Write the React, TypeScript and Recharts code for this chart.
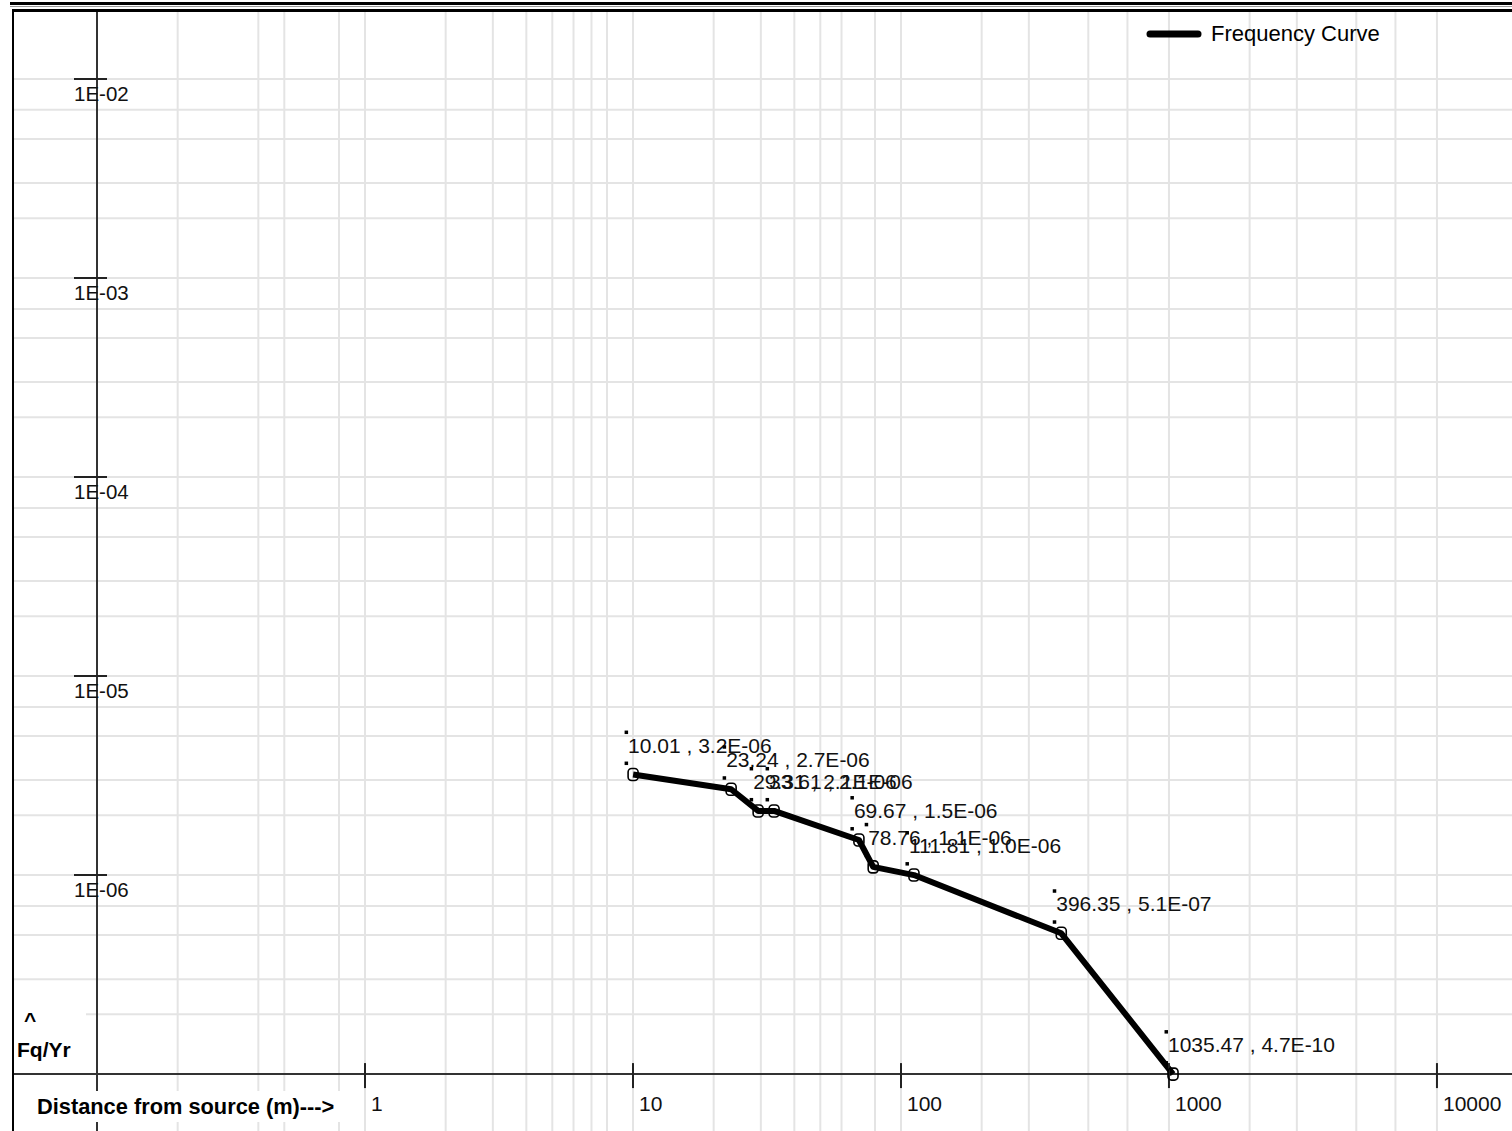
import React from 'react'
import {
  LineChart,
  Line,
  XAxis,
  YAxis,
  CartesianGrid,
  ReferenceLine,
  ReferenceDot,
  LabelList,
  Legend,
} from 'recharts'

// Frequency curve points (distance in m, frequency per year)
const distances = [10.01, 23.24, 29.31, 33.61, 69.67, 78.76, 111.81, 396.35, 1035.47]
const frequencies = [3.2e-6, 2.7e-6, 2.1e-6, 2.1e-6, 1.5e-6, 1.1e-6, 1.0e-6, 5.1e-7, 4.7e-10]

// Axis ticks
const xTickValues = [1, 10, 100, 1000, 10000]
const xTickLabels = ['1', '10', '100', '1000', '10000']
const yTickValues = [1e-2, 1e-3, 1e-4, 1e-5, 1e-6]
const yTickLabels = ['1E-02', '1E-03', '1E-04', '1E-05', '1E-06']

// Log grid: decades times 1..9
const xGridDecades = [0.1, 1, 10, 100, 1000]
const yGridDecades = [1e-7, 1e-6, 1e-5, 1e-4, 1e-3]
const gridSteps = [1, 2, 3, 4, 5, 6, 7, 8, 9]

const X_DOMAIN: [number, number] = [0.04901, 19055]
const Y_DOMAIN: [number, number] = [5.176e-8, 0.02223]
const X_ORIGIN = 0.1 // y axis crossing
const Y_FLOOR = 1e-7 // x axis crossing, lower values sit on it

const FONT = '"Liberation Sans", Arial, sans-serif'

const xGridValues = [...xGridDecades.flatMap((d) => gridSteps.map((k) => d * k)), 10000]
const yGridValues = [...yGridDecades.flatMap((d) => gridSteps.map((k) => d * k)), 1e-2]

function fmtExp(v: number) {
  const [m, e] = v.toExponential(1).split('e')
  const n = parseInt(e, 10)
  return `${m}E${n < 0 ? '-' : '+'}${String(Math.abs(n)).padStart(2, '0')}`
}

const data = distances.map((d, i) => ({
  distance: d,
  freq: frequencies[i],
  plotFreq: Math.max(frequencies[i], Y_FLOOR),
  label: `${d.toFixed(2)} , ${fmtExp(frequencies[i])}`,
}))

const Marker = (props: any) => {
  const { cx, cy, index } = props
  return (
    <rect
      key={`m-${index}`}
      x={cx - 5}
      y={cy - 6}
      width={10}
      height={12}
      rx={3.5}
      fill="none"
      stroke="#000"
      strokeWidth={1.6}
    />
  )
}

const PointLabel = (props: any) => {
  const { x, y, value, index } = props
  return (
    <g key={`l-${index}`}>
      <rect x={x - 8.5} y={y - 44} width={3.5} height={3.5} fill="#000" />
      <rect x={x - 8.5} y={y - 13} width={3.5} height={3.5} fill="#000" />
      <text x={x - 5} y={y - 22} fontFamily={FONT} fontSize={21} fill="#111">
        {value}
      </text>
    </g>
  )
}

const XTick = ({ cx, cy, text }: any) => (
  <g>
    <line x1={cx} x2={cx} y1={cy - 11} y2={cy + 14} stroke="#222" strokeWidth={2} />
    <text x={cx + 6} y={cy + 37} fontFamily={FONT} fontSize={21} fill="#111">
      {text}
    </text>
  </g>
)

const YTick = ({ cx, cy, text }: any) => (
  <g>
    <line x1={cx - 23} x2={cx + 10} y1={cy} y2={cy} stroke="#222" strokeWidth={2} />
    <text x={cx - 23} y={cy + 22} fontFamily={FONT} fontSize={20.5} fill="#111">
      {text}
    </text>
  </g>
)

const LegendBox = () => (
  <div style={{ display: 'flex', alignItems: 'center' }}>
    <svg width={60} height={12}>
      <line x1={7} x2={55} y1={6} y2={6} stroke="#000" strokeWidth={7} strokeLinecap="round" />
    </svg>
    <span style={{ fontFamily: FONT, fontSize: 22, color: '#000', marginLeft: 8 }}>Frequency Curve</span>
  </div>
)

export default function App() {
  return (
    <div
      style={{
        position: 'absolute',
        left: 0,
        top: 0,
        width: 1512,
        height: 1131,
        background: '#fff',
        overflow: 'hidden',
      }}
    >
      <LineChart width={1512} height={1131} data={data} margin={{ top: 10, right: 0, bottom: 0, left: 14 }}>
        <XAxis dataKey="distance" type="number" scale="log" domain={X_DOMAIN} allowDataOverflow hide />
        <YAxis type="number" scale="log" domain={Y_DOMAIN} allowDataOverflow hide />
        <CartesianGrid
          verticalValues={xGridValues}
          horizontalValues={yGridValues}
          stroke="#e4e4e4"
          strokeWidth={2}
        />

        {/* axes cross inside the plot */}
        <ReferenceLine x={X_ORIGIN} stroke="#333" strokeWidth={2} />
        <ReferenceLine y={Y_FLOOR} stroke="#333" strokeWidth={2} />

        {xTickValues.map((v, i) => (
          <ReferenceDot
            key={`xt-${v}`}
            x={v}
            y={Y_FLOOR}
            shape={(p: any) => <XTick {...p} text={xTickLabels[i]} />}
          />
        ))}
        {yTickValues.map((v, i) => (
          <ReferenceDot
            key={`yt-${v}`}
            x={X_ORIGIN}
            y={v}
            shape={(p: any) => <YTick {...p} text={yTickLabels[i]} />}
          />
        ))}

        <Line
          dataKey="plotFreq"
          name="Frequency Curve"
          type="linear"
          stroke="#000"
          strokeWidth={6}
          strokeLinejoin="round"
          dot={Marker}
          activeDot={false}
          isAnimationActive={false}
        >
          <LabelList dataKey="label" content={PointLabel} />
        </Line>

        <Legend
          layout="horizontal"
          verticalAlign="middle"
          align="center"
          content={LegendBox}
          wrapperStyle={{ left: 1143, top: 21, width: 'auto' }}
        />
      </LineChart>

      {/* frame */}
      <div style={{ position: 'absolute', left: 10, top: 2, width: 1502, height: 3, background: '#000' }} />
      <div style={{ position: 'absolute', left: 10, top: 6, width: 1502, height: 1, background: '#999' }} />
      <div style={{ position: 'absolute', left: 12, top: 9, width: 1500, height: 3, background: '#000' }} />
      <div style={{ position: 'absolute', left: 12, top: 9, width: 2, height: 1122, background: '#000' }} />

      {/* axis titles */}
      <div
        style={{
          position: 'absolute',
          left: 14,
          top: 1000,
          width: 72,
          height: 66,
          background: '#fff',
          fontFamily: FONT,
          fontWeight: 'bold',
          fontSize: 21,
          color: '#000',
          lineHeight: '24px',
        }}
      >
        <div style={{ paddingLeft: 10, paddingTop: 8 }}>^</div>
        <div style={{ paddingLeft: 3, paddingTop: 6 }}>Fq/Yr</div>
      </div>
      <div
        style={{
          position: 'absolute',
          left: 28,
          top: 1091,
          width: 328,
          height: 31,
          background: '#fff',
          fontFamily: FONT,
          fontWeight: 'bold',
          fontSize: 21.8,
          color: '#000',
          lineHeight: '31px',
          paddingLeft: 9,
          boxSizing: 'border-box',
          whiteSpace: 'nowrap',
        }}
      >
        Distance from source (m)---&gt;
      </div>
    </div>
  )
}
